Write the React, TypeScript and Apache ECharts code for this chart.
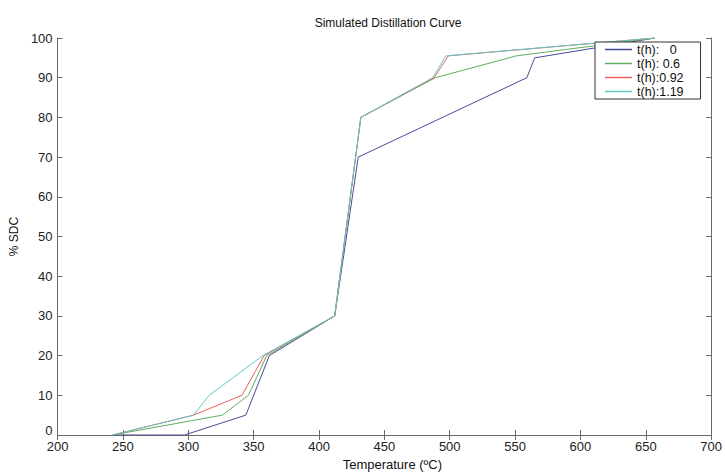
import React, { useEffect, useRef } from "react";
import * as echarts from "echarts";

const seriesNames = ["t(h):   0", "t(h): 0.6", "t(h):0.92", "t(h):1.19"];
const seriesColors = ["#4a4a9c", "#5fae5f", "#ee6060", "#60c8c8"];

const tempT0 = [242, 297, 344, 362, 412, 430, 559, 565, 657];
const sdcT0 = [0, 0, 5, 20, 30, 70, 90, 95, 100];

const tempT06 = [242, 326, 346, 360, 412, 432, 489, 551, 657];
const sdcT06 = [0, 5, 10, 20, 30, 80, 90, 95.5, 100];

const tempT092 = [242, 304, 341, 358, 412, 432, 488, 499, 657];
const sdcT092 = [0, 5, 10, 20, 30, 80, 90, 95.5, 100];

const tempT119 = [242, 304, 316, 357, 412, 432, 487, 497, 657];
const sdcT119 = [0, 5, 10, 20, 30, 80, 90, 95.5, 100];

const allTemps = [tempT0, tempT06, tempT092, tempT119];
const allSdc = [sdcT0, sdcT06, sdcT092, sdcT119];

export default function App() {
  const ref = useRef<HTMLDivElement>(null);
  useEffect(() => {
    if (!ref.current) return;
    const chart = echarts.init(ref.current, null, { renderer: "svg" });
    const font = "Liberation Sans, Arial, sans-serif";
    const axisLineStyle = { color: "#6a6a6a", width: 1 };
    const series = allTemps.map((ts, i) => ({
      name: seriesNames[i],
      type: "line",
      data: ts.map((t, j) => [t, allSdc[i][j]]),
      showSymbol: false,
      symbol: "none",
      lineStyle: { color: seriesColors[i], width: 1 },
      itemStyle: { color: seriesColors[i] },
      xAxisIndex: 0,
      yAxisIndex: 0,
      z: 2,
    }));
    chart.setOption({
      animation: false,
      backgroundColor: "#ffffff",
      textStyle: { fontFamily: font },
      title: {
        text: "Simulated Distillation Curve",
        left: 383,
        top: 12,
        textAlign: "center",
        textStyle: { fontSize: 12, fontWeight: "normal", color: "#111", fontFamily: font },
      },
      grid: { left: 54, right: 13, top: 38, bottom: 38, containLabel: false },
      legend: {
        orient: "vertical",
        left: 595,
        top: 42,
        padding: [1, 17, 1, 10],
        itemGap: 1,
        itemWidth: 27,
        itemHeight: 1.5,
        icon: "rect",
        backgroundColor: "#ffffff",
        borderColor: "#333",
        borderWidth: 1,
        borderRadius: 0,
        z: 10,
        textStyle: { fontSize: 12.5, color: "#111", fontFamily: font, lineHeight: 13 },
        data: seriesNames,
      },
      xAxis: [
        {
          type: "value",
          min: 200,
          max: 700,
          interval: 50,
          position: "bottom",
          name: "Temperature (ºC)",
          nameLocation: "middle",
          nameGap: 23,
          nameTextStyle: { fontSize: 13, color: "#111", padding: [0, 0, 0, 16], fontFamily: font },
          axisLine: { show: true, lineStyle: axisLineStyle },
          axisTick: { show: true, inside: true, length: 5, lineStyle: axisLineStyle },
          axisLabel: { fontSize: 13, color: "#222", margin: 5, fontFamily: font },
          splitLine: { show: false },
        },
        {
          type: "value",
          min: 200,
          max: 700,
          interval: 50,
          position: "top",
          axisLine: { show: true, lineStyle: axisLineStyle },
          axisTick: { show: true, inside: true, length: 5, lineStyle: axisLineStyle },
          axisLabel: { show: false },
          splitLine: { show: false },
        },
      ],
      yAxis: [
        {
          type: "value",
          min: 0,
          max: 100,
          interval: 10,
          position: "left",
          name: "% SDC",
          nameLocation: "middle",
          nameGap: 30,
          nameRotate: 90,
          nameTextStyle: { fontSize: 12, color: "#111", fontFamily: font },
          axisLine: { show: true, lineStyle: axisLineStyle },
          axisTick: { show: true, inside: true, length: 5, lineStyle: axisLineStyle },
          axisLabel: {
            fontSize: 13,
            color: "#222",
            margin: 5,
            fontFamily: font,
            formatter: (v: number) => (v === 0 ? "{z|0}" : String(v)),
            rich: { z: { fontSize: 13, color: "#222", padding: [0, 0, 10, 0], fontFamily: font } },
          },
          splitLine: { show: false },
        },
        {
          type: "value",
          min: 0,
          max: 100,
          interval: 10,
          position: "right",
          axisLine: { show: true, lineStyle: axisLineStyle },
          axisTick: { show: true, inside: true, length: 5, lineStyle: axisLineStyle },
          axisLabel: { show: false },
          splitLine: { show: false },
        },
      ],
      series,
    });
    return () => chart.dispose();
  }, []);
  return <div ref={ref} style={{ width: 725, height: 476, position: "absolute", left: 0, top: 0 }} />;
}
